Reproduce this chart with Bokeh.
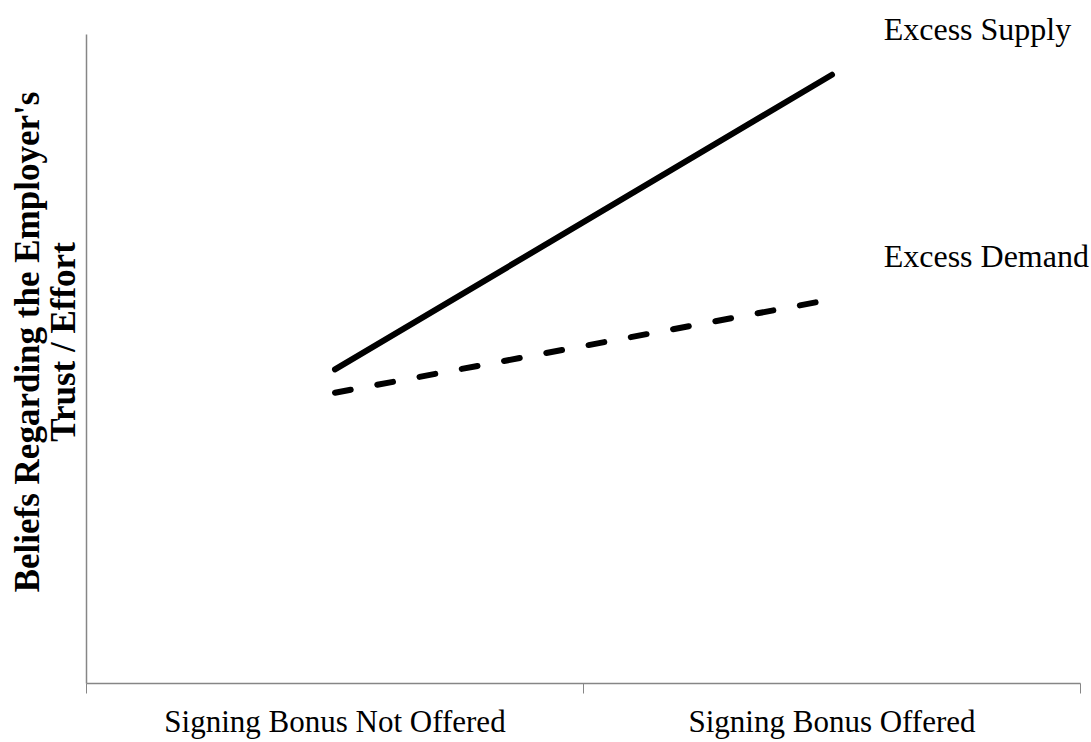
from bokeh.plotting import figure
from bokeh.models import Range1d, FixedTicker, ColumnDataSource
from bokeh.core.properties import value
from bokeh.embed import file_html
from bokeh.resources import INLINE

# ---- data ----
categories = ["Signing Bonus Not Offered", "Signing Bonus Offered"]
cat_x = [0.5, 1.5]
excess_supply = [4.84, 9.38]
excess_demand = [4.48, 5.92]
series_names = ["Excess Supply", "Excess Demand"]
y_title = "Beliefs Regarding the Employer's\nTrust / Effort"

p = figure(width=1091, height=742, output_backend="svg", toolbar_location=None,
           x_range=Range1d(0, 2.0221), y_range=Range1d(0, 10.524),
           min_border_left=86, min_border_right=0, min_border_top=0, min_border_bottom=59)
p.outline_line_color = None
p.xgrid.visible = False
p.ygrid.visible = False
p.background_fill_color = "white"
p.border_fill_color = "white"

# lines
p.line(cat_x, excess_supply, line_color="black", line_width=6, line_cap="round")
p.line(cat_x, excess_demand, line_color="black", line_width=6, line_cap="round",
       line_dash="16 27")

# series labels
lab_src = ColumnDataSource(dict(x=[1.604, 1.604], y=[10.08, 6.58], t=series_names))
p.text(x="x", y="y", text="t", source=lab_src, text_font=value("Liberation Serif"),
       text_font_size="32px", text_color="black", text_baseline="alphabetic",
       text_align="left")

# x axis
xa = p.xaxis[0]
xa.bounds = (0, 2)
xa.ticker = FixedTicker(ticks=cat_x, minor_ticks=[0, 1, 2])
xa.major_label_overrides = {cat_x[i]: categories[i] for i in range(len(categories))}
xa.major_tick_out = 0
xa.major_tick_in = 0
xa.minor_tick_out = 10
xa.minor_tick_in = 0
xa.minor_tick_line_color = "#868686"
xa.axis_line_color = "#868686"
xa.axis_line_width = 1.5
xa.major_label_text_font = "Liberation Serif"
xa.major_label_text_font_size = "31px"
xa.major_label_text_color = "black"
xa.major_label_standoff = 10

# y axis
ya = p.yaxis[0]
ya.ticker = FixedTicker(ticks=[])
ya.bounds = (0, 10)
ya.major_tick_out = 0
ya.major_tick_in = 0
ya.minor_tick_out = 0
ya.minor_tick_in = 0
ya.major_label_text_font_size = "0px"
ya.axis_line_color = "#868686"
ya.axis_line_width = 1.5
ya.axis_label = y_title
ya.axis_label_text_font = "Liberation Serif"
ya.axis_label_text_font_style = "bold"
ya.axis_label_text_font_size = "35px"
ya.axis_label_text_color = "black"
ya.axis_label_text_line_height = 0.9
ya.axis_label_standoff = 4

open("out.html", "w").write(file_html(p, INLINE))
